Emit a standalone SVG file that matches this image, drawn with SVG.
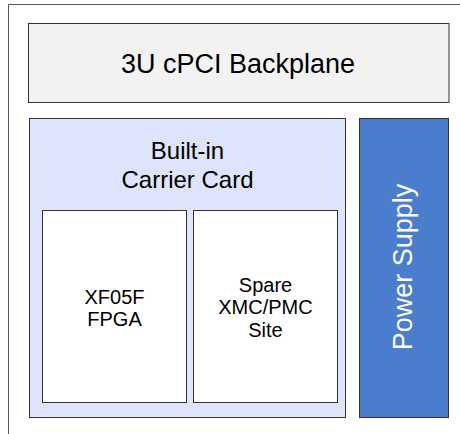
<svg xmlns="http://www.w3.org/2000/svg" width="460" height="434" viewBox="0 0 460 434">
<style>
text{font-family:"Liberation Sans",Arial,sans-serif;fill:#000;text-anchor:middle}
.box{stroke:#333;stroke-width:1}
.big{font-size:27px}
.mid{font-size:24px}
.sm{font-size:20px}
</style>
<rect width="460" height="434" fill="#fff"/>
<g id="frame"><path d="M8.5,434 V4.5 H460" fill="none" stroke="#555" stroke-width="1"/></g>
<g id="backplane">
<rect class="box" x="28.5" y="23.5" width="420.5" height="79" fill="#f2f2f2"/>
<text class="big" x="238" y="72.5">3U cPCI Backplane</text>
</g>
<g id="carrier">
<rect class="box" x="29.5" y="118.5" width="316" height="299" fill="#dde4fb" stroke="#555"/>
<text class="mid" x="187.5" y="159.3">Built-in</text>
<text class="mid" x="187.5" y="188.3">Carrier Card</text>
</g>
<g id="fpga">
<rect class="box" x="42.5" y="210.5" width="144" height="192" fill="#fff"/>
<text class="sm" x="114.5" y="304">XF05F</text>
<text class="sm" x="114.5" y="325.5">FPGA</text>
</g>
<g id="spare">
<rect class="box" x="193.5" y="210.5" width="144" height="192" fill="#fff"/>
<text class="sm" x="265.5" y="292">Spare</text>
<text class="sm" x="265.5" y="314.3">XMC/PMC</text>
<text class="sm" x="265.5" y="336.6">Site</text>
</g>
<g id="power">
<rect class="box" x="359.5" y="118.5" width="89" height="299" fill="#4a7dcc"/>
<text class="big" transform="translate(412,267) rotate(-90)" x="0" y="0" style="fill:#fff">Power Supply</text>
</g>
<g id="connectors"></g>
</svg>
